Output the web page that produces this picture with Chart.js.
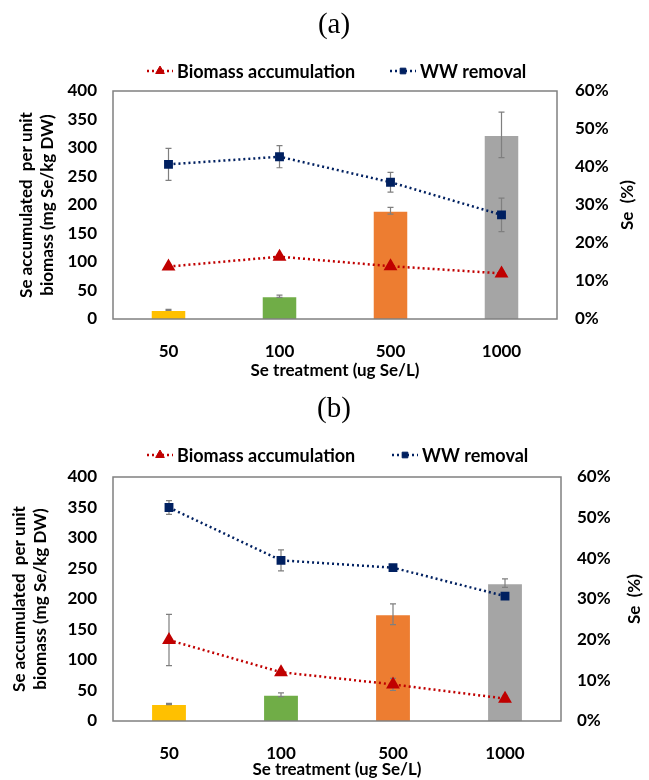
<!DOCTYPE html>
<html>
<head>
<meta charset="utf-8">
<script src="https://cdn.jsdelivr.net/npm/chart.js@4.4.1/dist/chart.umd.min.js"></script>
<style>
    body { margin: 0; background: #fff; }
    .panel { position: absolute; left: 0; width: 649px; height: 390px; }
</style>
</head>
<body>
<div class="panel" style="top:0"><canvas id="chartA" width="649" height="390"></canvas></div>
<div class="panel" style="top:390px"><canvas id="chartB" width="649" height="390"></canvas></div>
<script>
const treatments = ['50', '100', '500', '1000'];
const barColors = ['#FFC000', '#70AD47', '#ED7D31', '#A5A5A5'];

// panel (a)
const seAccumA = [16, 40, 190, 323];
const seAccumErrA = [1, 2, 6, 40];
const biomassA = [13.8, 16.4, 13.9, 12.0];
const biomassErrA = [0.3, 0.4, 0.4, 0.6];
const wwRemovalA = [40.7, 42.7, 36.0, 27.4];
const wwRemovalErrA = [4.2, 2.9, 2.6, 4.4];

// panel (b)
const seAccumB = [28, 43, 175, 226];
const seAccumErrB = [1, 3, 17, 7];
const biomassB = [19.9, 12.0, 9.0, 5.5];
const biomassErrB = [6.3, 0.5, 1.5, 0.8];
const wwRemovalB = [52.5, 39.5, 37.7, 30.7];
const wwRemovalErrB = [1.7, 2.6, 0.4, 0.4];

const FONT = 'Lato, "Open Sans", sans-serif';

function drawErrors(chart, index, meta) {
    const ds = chart.data.datasets[index];
    if (!ds.errors) return;
    const scale = chart.scales[meta.yAxisID];
    const ctx = chart.ctx;
    ctx.save();
    ctx.strokeStyle = '#7F7F7F';
    ctx.lineWidth = 1.2;
    for (let i = 0; i < ds.data.length; i++) {
        const x = meta.data[i].x;
        const yTop = scale.getPixelForValue(ds.data[i] + ds.errors[i]);
        const yBot = scale.getPixelForValue(ds.data[i] - ds.errors[i]);
        ctx.beginPath();
        ctx.moveTo(x, yTop); ctx.lineTo(x, yBot);
        ctx.moveTo(x - 3, yTop); ctx.lineTo(x + 3, yTop);
        ctx.moveTo(x - 3, yBot); ctx.lineTo(x + 3, yBot);
        ctx.stroke();
    }
    ctx.restore();
}

// error bars + frame + legend + panel letter
const decorPlugin = {
    id: 'decor',
    beforeDatasetDraw(chart, args) {
        //markers sit on top of their error bars
        if (args.meta.type === 'line') drawErrors(chart, args.index, args.meta);
    },
    afterDatasetDraw(chart, args) {
        if (args.meta.type === 'bar') drawErrors(chart, args.index, args.meta);
    },
    afterDraw(chart, args, opts) {
        const ctx = chart.ctx;
        const a = chart.chartArea;
        ctx.save();
        ctx.strokeStyle = '#808080';
        ctx.lineWidth = 1.5;
        ctx.strokeRect(a.left, a.top, a.right - a.left, a.bottom - a.top);

        // panel letter
        ctx.fillStyle = '#000';
        ctx.font = '29px "Liberation Serif", serif';
        ctx.textAlign = 'center';
        ctx.textBaseline = 'middle';
        ctx.fillText(opts.letter, opts.letterX, opts.letterY);

        // legend
        ctx.font = 'bold 18px ' + FONT;
        ctx.textAlign = 'left';
        chart.data.datasets.forEach(function (ds, i) {
            if (ds.type !== 'line') return;
            const pos = opts.legend[i - 1];
            ctx.strokeStyle = ds.borderColor;
            ctx.lineWidth = 2.5;
            ctx.setLineDash([2, 3]);
            ctx.beginPath();
            ctx.moveTo(pos.x, opts.legendY);
            ctx.lineTo(pos.x + 26, opts.legendY);
            ctx.stroke();
            ctx.setLineDash([]);
            ctx.fillStyle = ds.pointBackgroundColor;
            ctx.lineWidth = 1;
            Chart.helpers.drawPoint(ctx, {
                pointStyle: ds.pointStyle, radius: ds.pointRadius - 0.5, borderWidth: 1
            }, pos.x + 13, opts.legendY);
            ctx.fillStyle = '#000';
            ctx.fillText(ds.label, pos.x + 30, opts.legendY + 1);
        });

        // right axis title, read bottom to top
        ctx.font = 'bold 17px ' + FONT;
        ctx.translate(opts.rightTitleX, (a.top + a.bottom) / 2);
        ctx.rotate(-Math.PI / 2);
        ctx.textAlign = 'center';
        ctx.fillStyle = '#000';
        ctx.fillText('Se  (%)', 0, 0);
        ctx.restore();
    }
};

function makeChart(canvasId, bars, barErr, biomass, biomassErr, ww, wwErr, lay) {
    return new Chart(document.getElementById(canvasId), {
        data: {
            labels: treatments,
            datasets: [
                {
                    type: 'bar',
                    label: 'Se accumulated',
                    data: bars,
                    errors: barErr,
                    backgroundColor: barColors,
                    borderColor: 'rgba(255,255,255,0.5)',
                    borderWidth: 1,
                    barPercentage: 0.32,
                    categoryPercentage: 1,
                    yAxisID: 'y',
                    order: 2
                },
                {
                    type: 'line',
                    label: 'Biomass accumulation',
                    data: biomass,
                    errors: biomassErr,
                    borderColor: '#C00000',
                    backgroundColor: '#C00000',
                    pointBackgroundColor: '#C00000',
                    pointBorderColor: '#C00000',
                    borderWidth: 2.5,
                    borderDash: [2, 3],
                    pointStyle: 'triangle',
                    pointRadius: 5.5,
                    tension: 0,
                    yAxisID: 'y1',
                    order: 1
                },
                {
                    type: 'line',
                    label: 'WW removal',
                    data: ww,
                    errors: wwErr,
                    borderColor: '#002060',
                    backgroundColor: '#002060',
                    pointBackgroundColor: '#002060',
                    pointBorderColor: '#002060',
                    borderWidth: 2.5,
                    borderDash: [2, 3],
                    pointStyle: 'rect',
                    pointRadius: 4.5,
                    tension: 0,
                    yAxisID: 'y1',
                    order: 0
                }
            ]
        },
        options: {
            responsive: false,
            animation: false,
            layout: { padding: { top: lay.top, left: 0, right: 0, bottom: 0 } },
            plugins: {
                legend: { display: false },
                tooltip: { enabled: false },
                decor: lay.decor
            },
            scales: {
                x: {
                    grid: { display: false },
                    border: { display: false },
                    ticks: { color: '#000', padding: lay.xPad, font: { family: FONT, size: 17, weight: 'bold' } },
                    title: {
                        display: true,
                        text: 'Se treatment (ug Se/L)',
                        color: '#000',
                        padding: { top: 0, bottom: lay.xTitlePad },
                        font: { family: FONT, size: 17, weight: 'bold' }
                    },
                    afterFit: function (scale) { scale.height = lay.xHeight; }
                },
                y: {
                    position: 'left',
                    min: 0,
                    max: 400,
                    grid: { display: false, drawTicks: false },
                    border: { display: false },
                    ticks: { stepSize: 50, color: '#000', padding: 16, font: { family: FONT, size: 17, weight: 'bold' } },
                    title: {
                        display: true,
                        text: ['Se accumulated  per unit', 'biomass (mg Se/kg DW)'],
                        color: '#000',
                        padding: { top: lay.yTitlePad, bottom: 0 },
                        font: { family: FONT, size: 17, weight: 'bold', lineHeight: 1.25 }
                    },
                    afterFit: function (scale) { scale.width = 113; }
                },
                y1: {
                    position: 'right',
                    min: 0,
                    max: 60,
                    grid: { display: false, drawTicks: false },
                    border: { display: false },
                    ticks: {
                        stepSize: 10,
                        color: '#000',
                        padding: lay.rPad,
                        font: { family: FONT, size: 17, weight: 'bold' },
                        callback: function (v) { return v + '%'; }
                    },
                    afterFit: function (scale) { scale.width = lay.rWidth; }
                }
            }
        },
        plugins: [decorPlugin]
    });
}

makeChart('chartA', seAccumA, seAccumErrA, biomassA, biomassErrA, wwRemovalA, wwRemovalErrA, {
    top: 91, xHeight: 71, xPad: 14, xTitlePad: 9, yTitlePad: 16, rPad: 18, rWidth: 92,
    decor: {
        letter: '(a)', letterX: 334, letterY: 25, legendY: 71, rightTitleX: 628,
        legend: [{ x: 147 }, { x: 390 }]
    }
});

makeChart('chartB', seAccumB, seAccumErrB, biomassB, biomassErrB, wwRemovalB, wwRemovalErrB, {
    top: 87, xHeight: 59, xPad: 14, xTitlePad: 0, yTitlePad: 9, rPad: 16, rWidth: 88,
    decor: {
        letter: '(b)', letterX: 334, letterY: 19, legendY: 65, rightTitleX: 635,
        legend: [{ x: 147 }, { x: 392 }]
    }
});
</script>
</body>
</html>
